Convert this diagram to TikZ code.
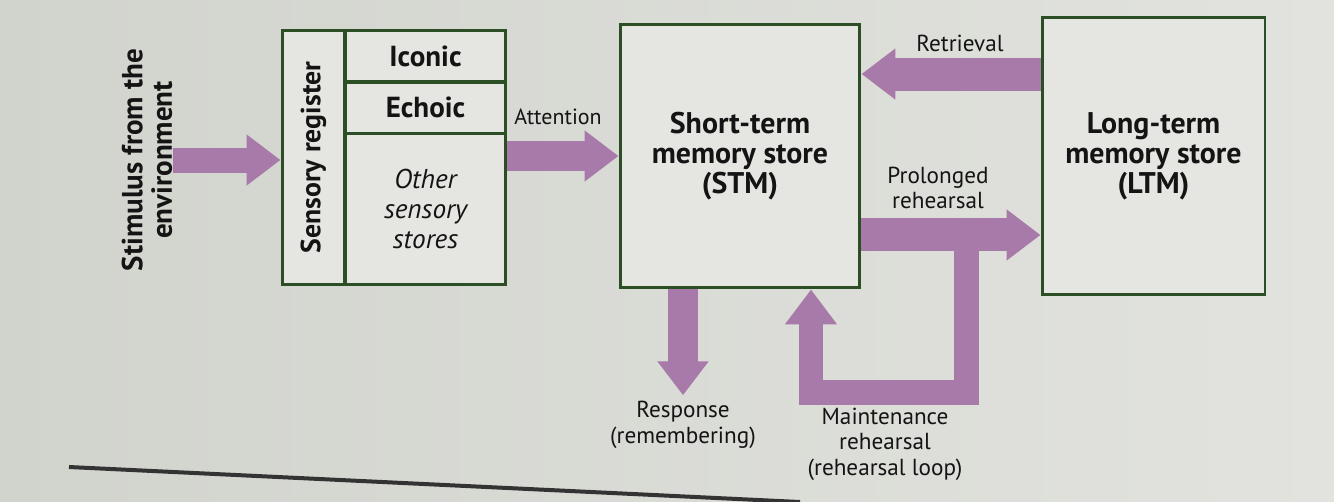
\documentclass[tikz,border=0pt]{standalone}
\usepackage{fontspec}
\setmainfont{PT Sans}
\usepackage{tikz}
\usetikzlibrary{arrows.meta}

\definecolor{pagegrey}{RGB}{226,227,222}
\definecolor{pageleft}{RGB}{209,211,205}
\definecolor{boxfill}{RGB}{229,230,225}
\definecolor{boxline}{RGB}{44,78,36}
\definecolor{flow}{RGB}{168,122,170}
\definecolor{ink}{RGB}{20,20,20}

\begin{document}
\begin{tikzpicture}[x=0.02cm,y=-0.02cm]
    \tikzstyle{box}=[draw=boxline,line width=0.06cm,fill=boxfill,inner sep=0pt,text=ink]
    \tikzstyle{title}=[font=\fontsize{16.5}{17}\selectfont\bfseries,align=center,text=ink]
    \tikzstyle{store}=[font=\fontsize{15.5}{17}\selectfont\itshape,align=center,text=ink]
    \tikzstyle{txt}=[font=\fontsize{12.5}{13.6}\selectfont,align=center,text=ink]
    \tikzstyle{big}=[font=\fontsize{13.2}{14.5}\selectfont,align=center,text=ink]
    \tikzstyle{arr}=[draw=flow,line width=0.6cm,-{Triangle[width=0.98cm,length=0.68cm]}]
    \tikzstyle{looparr}=[draw=flow,line width=0.5cm,line join=miter,-{Triangle[width=1.0cm,length=0.7cm]}]

    % page
    \useasboundingbox (0,0) rectangle (1334,501);
    \shade[left color=pageleft,right color=pagegrey] (0,0) rectangle (1334,501);
    \draw[line width=0.08cm,black!80] (69,467) -- (800,502);

    % sensory register
    \node[box,minimum width=1.26cm,minimum height=5.1cm] (sreg) at (313.5,157.5) {};
    \node[title,rotate=90,font=\fontsize{15.8}{17}\selectfont\bfseries] (sregtxt) at (sreg) {Sensory register};
    \node[box,title,minimum width=3.22cm,minimum height=1.04cm] (iconic) at (425.5,56) {Iconic};
    \node[box,title,minimum width=3.22cm,minimum height=1.02cm] (echoic) at (425.5,107.5) {Echoic};
    \node[box,store,minimum width=3.22cm,minimum height=3.04cm] (other) at (425.5,209) {Other\\sensory\\stores};

    % stores
    \node[box,title,font=\fontsize{17}{17}\selectfont\bfseries,minimum width=4.8cm,minimum height=5.28cm] (stm) at (740,156) {Short-term\\memory store\\(STM)};
    \node[box,title,font=\fontsize{17}{17}\selectfont\bfseries,minimum width=4.46cm,minimum height=5.56cm] (ltm) at (1153.5,156) {Long-term\\memory store\\(LTM)};

    \node[title,rotate=90,inner sep=0pt,font=\fontsize{16.5}{16.8}\selectfont\bfseries] (stim) at (147,160) {Stimulus from the\\environment};

    % labels
    \node[txt] (att)   at (558,117) {Attention};
    \node[big] (retr)  at (960,43)  {Retrieval};
    \node[big] (prol)  at (938,188) {Prolonged\\rehearsal};
    \node[big] (resp)  at (683,425) {Response\\(remembering)};
    \node[big] (maint) at (885,444) {Maintenance\\rehearsal\\(rehearsal loop)};

    % flows
    \draw[arr,line width=0.5cm] (stim.south) -- (stim.south -| sreg.west);
    \draw[arr] (stm.west -| other.east) -- (stm.west);
    \draw[arr,line width=0.66cm] ([yshift=1.64cm]ltm.west) -- ([yshift=1.64cm]stm.east);
    \draw[arr,line width=0.66cm] ([yshift=-1.58cm]stm.east) -- ([yshift=-1.58cm]ltm.west);
    \draw[arr] (resp.north |- stm.south) -- (resp.north);

    \coordinate (split) at (966,235);
    \draw[looparr] (split) |- ([xshift=1.42cm,yshift=-2.06cm]stm.south) -- ([xshift=1.42cm]stm.south);
\end{tikzpicture}
\end{document}
